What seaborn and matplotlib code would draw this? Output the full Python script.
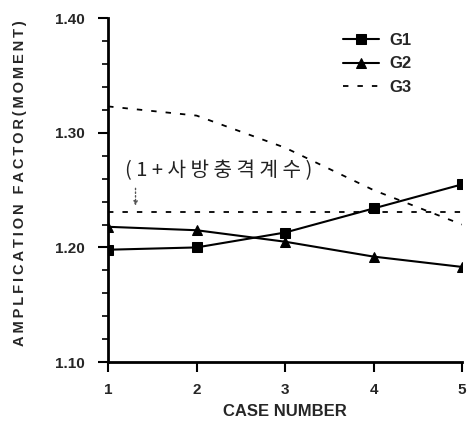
import matplotlib
matplotlib.use("Agg")
import matplotlib.pyplot as plt
import seaborn as sns
import pandas as pd
from matplotlib.ticker import MultipleLocator

cases = [1, 2, 3, 4, 5]
g1 = [1.198, 1.200, 1.213, 1.234, 1.255]
g2 = [1.218, 1.215, 1.205, 1.192, 1.183]
g3 = [1.323, 1.315, 1.287, 1.250, 1.220]
impact_level = [1.231, 1.231, 1.231, 1.231, 1.231]
x_ticks = [1, 2, 3, 4, 5]
y_ticks = [1.10, 1.20, 1.30, 1.40]
y_tick_labels = ["1.10", "1.20", "1.30", "1.40"]
annot_text = "( 1 + 사 방 충 격 계 수 )"
y_label = "AMPLFICATION FACTOR(MOMENT)"

sns.set_style("ticks")
plt.rcParams['font.family'] = ['Liberation Sans', 'Noto Sans CJK KR', 'DejaVu Sans']

fig = plt.figure(figsize=(4.7, 4.22), dpi=100)
ax = fig.add_axes([0.230, 0.142, 0.753, 0.815])

df = pd.DataFrame({"case": cases, "G1": g1, "G2": g2, "G3": g3, "ref": impact_level})

sns.lineplot(data=df, x="case", y="G1", ax=ax, color="black", lw=1.5,
             marker="s", markersize=7, markeredgecolor="black", label="G1")
sns.lineplot(data=df, x="case", y="G2", ax=ax, color="black", lw=1.5,
             marker="^", markersize=7, markeredgecolor="black", label="G2")
sns.lineplot(data=df, x="case", y="G3", ax=ax, color="black", lw=1.3,
             linestyle=(0, (3, 5)), label="G3")
sns.lineplot(data=df, x="case", y="ref", ax=ax, color="black", lw=1.3,
             linestyle=(0, (3, 5)), legend=False)

ax.set_xlim(1, 5)
ax.set_ylim(1.10, 1.40)
ax.set_xticks(x_ticks)
ax.set_xticklabels([str(v) for v in x_ticks], fontsize=11, fontweight="bold")
ax.set_yticks(y_ticks)
ax.set_yticklabels(y_tick_labels, fontsize=11, fontweight="bold")
ax.yaxis.set_minor_locator(MultipleLocator(0.02))
ax.tick_params(axis="both", which="major", direction="out", length=7, width=1.5, color="black")
ax.tick_params(axis="y", which="minor", direction="out", length=4, width=1.2, color="black")
ax.tick_params(axis="x", pad=8)
ax.tick_params(axis="y", pad=10)

for s in ["top", "right"]:
    ax.spines[s].set_visible(False)
for s in ["left", "bottom"]:
    ax.spines[s].set_linewidth(2)
    ax.spines[s].set_color("black")

ax.set_xlabel("CASE NUMBER", fontsize=12, fontweight="bold", labelpad=5)
ax.set_ylabel("\u2009".join(y_label), fontsize=10.5, fontweight="bold")
ax.yaxis.set_label_coords(-0.228, 0.52)

ax.text(1.19, 1.267, annot_text, fontsize=14.5, va="center", ha="left",
        family=["Noto Sans CJK KR", "DejaVu Sans"], color="#222222")
ax.annotate("", xy=(1.31, 1.234), xytext=(1.31, 1.254),
            arrowprops=dict(arrowstyle="-|>", linestyle=":", color="#555555", lw=1,
                            mutation_scale=6))

leg = ax.legend(loc="upper right", bbox_to_anchor=(0.90, 1.0), frameon=False,
                fontsize=12, handlelength=2.2, labelspacing=0.5, handletextpad=0.6)
for t in leg.get_texts():
    t.set_fontweight("bold")

fig.savefig("out.png", dpi=100)
